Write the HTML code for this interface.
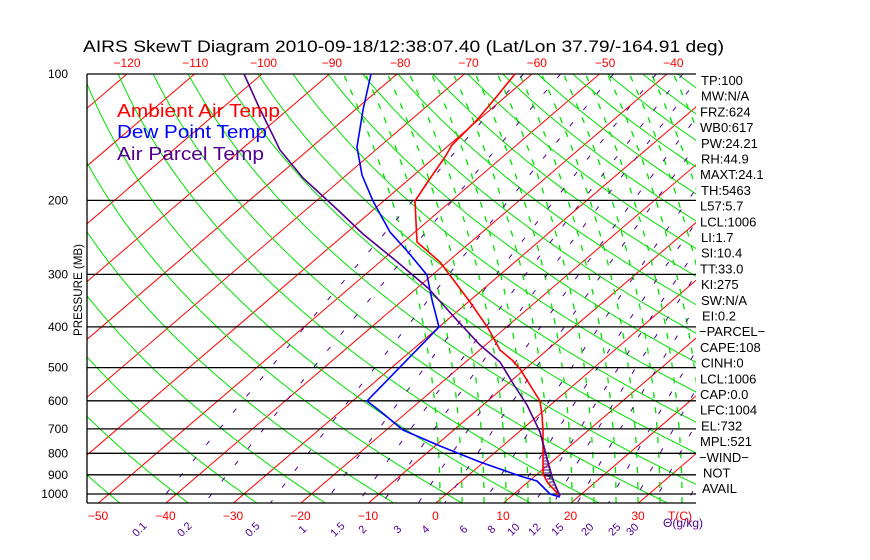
<!DOCTYPE html>
<html><head><meta charset="utf-8"><style>
html,body{margin:0;padding:0;background:#fff;}
svg{display:block;font-family:"Liberation Sans",sans-serif;}
</style></head><body>
<svg id="s" width="870" height="560" xmlns="http://www.w3.org/2000/svg">
<defs><clipPath id="c"><rect x="87" y="74" width="609" height="429"/></clipPath></defs>
<g id="bg" clip-path="url(#c)"></g>
<g id="fg"></g>
<text x="83" y="52" font-size="17" fill="#000" textLength="641" lengthAdjust="spacingAndGlyphs">AIRS SkewT Diagram 2010-09-18/12:38:07.40 (Lat/Lon 37.79/-164.91 deg)</text>
<text x="117" y="117" font-size="18" fill="#f00" textLength="163" lengthAdjust="spacingAndGlyphs">Ambient Air Temp</text>
<text x="117" y="138" font-size="18" fill="#00f" textLength="150" lengthAdjust="spacingAndGlyphs">Dew Point Temp</text>
<text x="117" y="160" font-size="18" fill="#50008c" textLength="147" lengthAdjust="spacingAndGlyphs">Air Parcel Temp</text>
<text transform="translate(82,290) rotate(-90)" font-size="12" text-anchor="middle" fill="#000" textLength="92" lengthAdjust="spacingAndGlyphs">PRESSURE (MB)</text>
</svg>
<script>
var NS="http://www.w3.org/2000/svg";
var bg=document.getElementById('bg'),fg=document.getElementById('fg');
function Y(p){return 74+420*Math.log10(p/100);}
var K=501/429;
function X(T,p){return 436+6.75*T+K*(503-Y(p));}
function pl(g,pts,col,w,dash){var e=document.createElementNS(NS,'polyline');
 e.setAttribute('points',pts.map(function(a){return a[0].toFixed(1)+','+a[1].toFixed(1)}).join(' '));
 e.setAttribute('fill','none');e.setAttribute('stroke',col);e.setAttribute('stroke-width',w);
 if(dash)e.setAttribute('stroke-dasharray',dash);g.appendChild(e);}
function tx(x,y,s,col,size,anchor,rot){var e=document.createElementNS(NS,'text');
 e.setAttribute('x',x);e.setAttribute('y',y);e.setAttribute('fill',col);e.setAttribute('font-size',size);
 if(anchor)e.setAttribute('text-anchor',anchor);
 if(rot)e.setAttribute('transform','rotate('+rot+' '+x+' '+y+')');
 e.textContent=s;fg.appendChild(e);}
var ps=[];for(var p=100;p<=1050;p+=5)ps.push(p);
for(var T=-200;T<=60;T+=10){pl(bg,[[X(T,100),Y(100)],[X(T,1050),Y(1050)]],'#f00',1);}
for(var th=-80;th<=260;th+=10){var pts=ps.map(function(p){var t=(th+273.15)*Math.pow(p/1000,0.2857)-273.15;return [X(t,p),Y(p)];});pl(bg,pts,'#00e000',1);}
for(var x0=440;x0<=800;x0+=22){var pts=[];
 for(var y=503;y>=74;y-=4){var h=503-y;pts.push([x0-0.45*h*h/(2*429),y]);}
 pl(bg,pts,'#00e000',1.3,'6,9');}
var ws=[0.1,0.2,0.5,1,1.5,2,3,4,6,8,10,12,15,20,25,30,40,50,70];
ws.forEach(function(w){var pts=ps.map(function(p){var e=w*p/(622+w),l=Math.log(e/6.112),td=243.5*l/(17.67-l);return [X(td,p),Y(p)];});pl(bg,pts,'#50008c',1,'5,16');});
[100,200,300,400,500,600,700,800,900,1000].forEach(function(p){pl(fg,[[87,Y(p)],[696,Y(p)]],'#000',1.3);
 tx(68,Y(p)+4,String(p),'#000',12,'end');});
pl(fg,[[87,503],[696,503]],'#000',1.3);pl(fg,[[87,74],[87,503]],'#000',1.3);
for(var y=446;y<=494;y+=3){var xl=543+(y>474?(y-474)*0.8:0);var xr=545+(y-446)*0.25;if(y>484)xr=555+(y-484)*0.4;pl(fg,[[xl,y],[Math.max(xr,xl+2),y]],'#50008c',1);}
pl(fg,[[515,74],[498,95],[477,120],[452,145],[445,157],[429,180],[415,201],[416,222],[417,242],[440,262],[455,282],[470,302],[488,328],[500,350],[512,360],[520,369],[530,385],[540,401],[542,415],[543,430],[543,474],[548,483],[560,496]],'#f00',1.6);
pl(fg,[[371,74],[363,110],[357,147],[362,175],[373,201],[390,232],[408,252],[427,275],[432,300],[439,327],[367,401],[380,411],[403,430],[440,446],[480,462],[520,476],[537,481],[550,494],[560,497]],'#00f',1.6);
pl(fg,[[244,74],[258,105],[280,150],[303,178],[340,212],[363,234],[395,260],[428,288],[455,318],[480,345],[500,362],[514,385],[527,405],[540,432],[546,455],[553,480],[560,496]],'#50008c',1.6);
[-120,-110,-100,-90,-80,-70,-60,-50,-40].forEach(function(t,i){tx(127+68.3*i,67,String(t).replace('-','\u2212'),'#f00',12,'middle');});
[-50,-40,-30,-20,-10,0,10,20,30].forEach(function(t,i){tx(98+67.5*i,520,String(t).replace('-','\u2212'),'#f00',12,'middle');});
tx(680,520,'T(C)','#f00',12,'middle');
var ml=[[0.1,142],[0.2,187],[0.5,255],[1,305],[1.5,340],[2,365],[3,400],[4,428],[6,466],[8,494],[10,516],[12,537],[15,560],[20,590],[25,617],[30,635]];
ml.forEach(function(m){tx(m[1],532,String(m[0]),'#50008c',11,'middle',-45);});
tx(663,527,'\u0398(g/kg)','#50008c',12,'start');
var lab=['TP:100','MW:N/A','FRZ:624','WB0:617','PW:24.21','RH:44.9','MAXT:24.1','TH:5463','L57:5.7','LCL:1006','LI:1.7','SI:10.4','TT:33.0','KI:275','SW:N/A','EI:0.2','\u2212PARCEL\u2212','CAPE:108','CINH:0','LCL:1006','CAP:0.0','LFC:1004','EL:732','MPL:521','\u2212WIND\u2212','NOT','AVAIL'];
var xs=[701,701,700,700,701,701,700,701,700,700,701,701,700,701,701,702,699,700,701,700,700,700,701,700,699,703,702];
lab.forEach(function(s,i){tx(xs[i],85+15.7*i,s,'#000',13,'start');});
</script>
</body></html>
